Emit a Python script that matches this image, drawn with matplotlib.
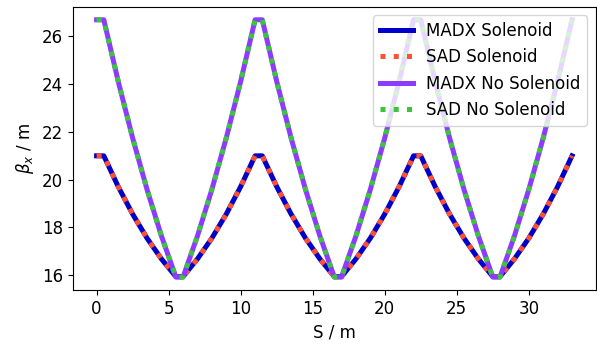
import matplotlib
matplotlib.use("Agg")
import matplotlib.pyplot as plt

# positions along the line (m)
s = [0, 0.5, 1.5, 2.5, 3.5, 4.5, 5.5, 6.0, 7, 8, 9, 10,
     11, 11.5, 12.5, 13.5, 14.5, 15.5, 16.5, 17.0, 18, 19, 20, 21,
     22, 22.5, 23.5, 24.5, 25.5, 26.5, 27.5, 28.0, 29, 30, 31, 32,
     33]

# beta_x with solenoid (m)
beta_sol = [21.0, 21.0, 19.71, 18.56, 17.55, 16.68, 15.94, 15.94, 16.68, 17.55, 18.56, 19.71,
            21.0, 21.0, 19.71, 18.56, 17.55, 16.68, 15.94, 15.94, 16.68, 17.55, 18.56, 19.71,
            21.0, 21.0, 19.71, 18.56, 17.55, 16.68, 15.94, 15.94, 16.68, 17.55, 18.56, 19.71,
            21.0]

# beta_x without solenoid (m)
beta_nosol = [26.7, 26.7, 24.12, 21.75, 19.59, 17.64, 15.92, 15.92, 17.64, 19.59, 21.75, 24.12,
              26.7, 26.7, 24.12, 21.75, 19.59, 17.64, 15.92, 15.92, 17.64, 19.59, 21.75, 24.12,
              26.7, 26.7, 24.12, 21.75, 19.59, 17.64, 15.92, 15.92, 17.64, 19.59, 21.75, 24.12,
              26.7]

plt.rcParams["font.size"] = 12

fig = plt.figure(figsize=(5.97, 3.46), dpi=100)
ax = fig.add_subplot(111)
fig.subplots_adjust(left=0.122, right=0.998, top=0.98, bottom=0.162)

lw = 3.6
ax.plot(s, beta_sol, color="#0000c8", lw=lw, label="MADX Solenoid")
ax.plot(s, beta_sol, color="#ff5030", lw=lw, ls=":", label="SAD Solenoid")
ax.plot(s, beta_nosol, color="#8c3cff", lw=lw, label="MADX No Solenoid")
ax.plot(s, beta_nosol, color="#3cc43c", lw=lw, ls=":", label="SAD No Solenoid")

ax.set_xlabel("S / m")
ax.set_ylabel(r"$\beta_x$ / m")
ax.set_yticks([16, 18, 20, 22, 24, 26])
ax.legend(loc="upper right")

fig.savefig("out.png")
